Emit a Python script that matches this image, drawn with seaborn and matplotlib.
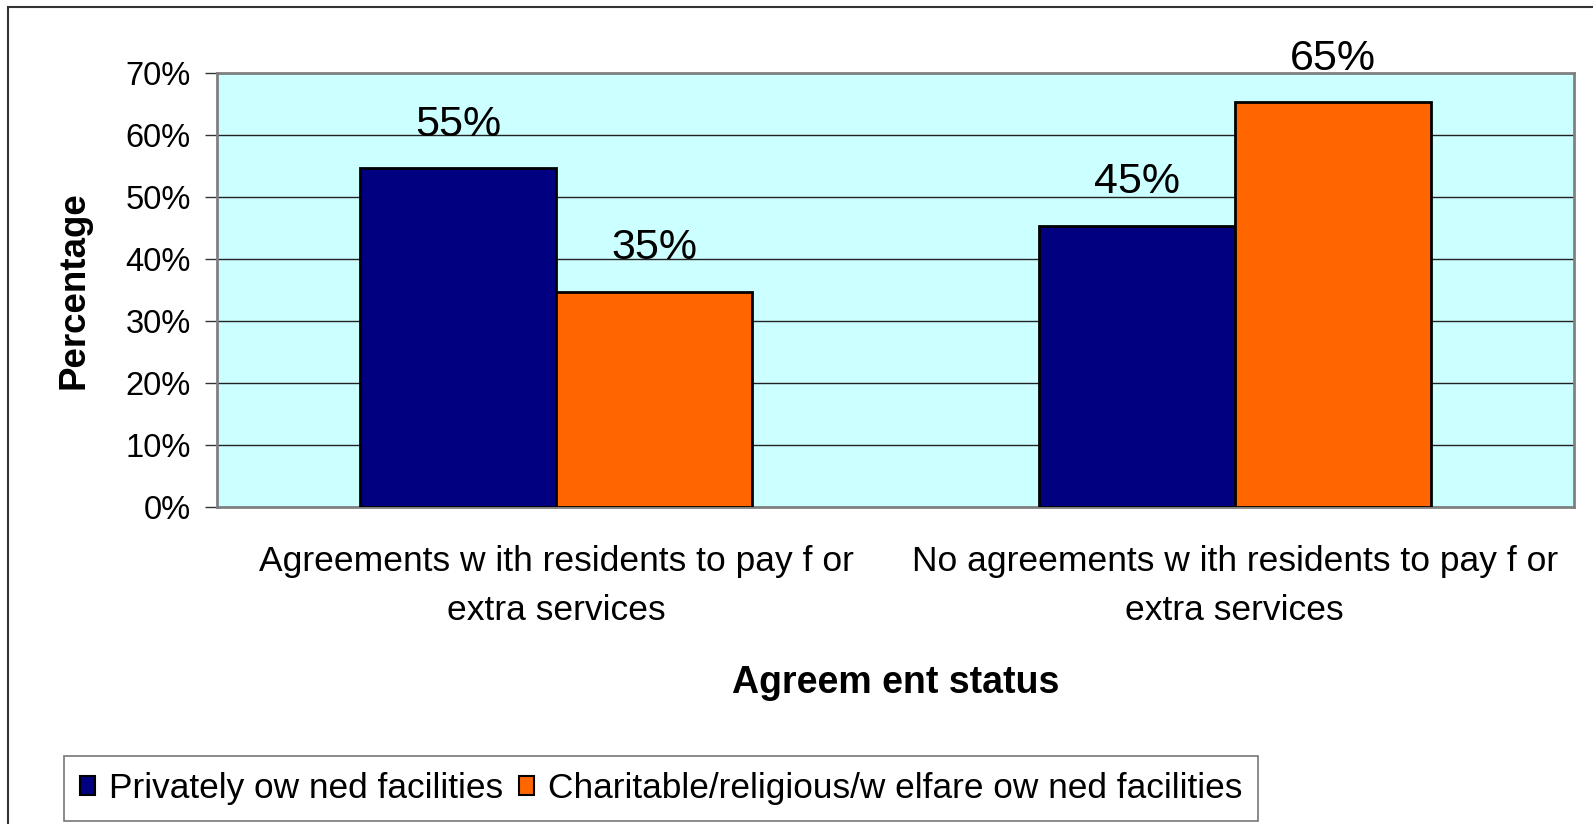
import pandas as pd
import seaborn as sns
import matplotlib.pyplot as plt
from matplotlib.patches import Rectangle, Patch

# data
categories = ['Agreements w ith residents to pay f or\nextra services',
              'No agreements w ith residents to pay f or\nextra services']
series = ['Privately ow ned facilities', 'Charitable/religious/w elfare ow ned facilities']
private_vals = [54.6, 45.4]
charitable_vals = [34.7, 65.3]
yticks = [0, 10, 20, 30, 40, 50, 60, 70]

colors = ['#000080', '#FF6600']

df = pd.DataFrame({
    'status': categories * 2,
    'owner': [series[0]] * 2 + [series[1]] * 2,
    'pct': private_vals + charitable_vals,
})

sns.set_style('white')
plt.rcParams['font.family'] = ['Liberation Sans', 'DejaVu Sans']
plt.rcParams['text.color'] = 'black'
plt.rcParams['axes.labelcolor'] = 'black'
plt.rcParams['xtick.color'] = 'black'
plt.rcParams['ytick.color'] = 'black'

fig = plt.figure(figsize=(15.93, 8.24), dpi=100)
ax = fig.add_axes([217 / 1593, 1 - 507 / 824, (1574 - 217) / 1593, (507 - 73) / 824])

sns.barplot(data=df, x='status', y='pct', hue='owner', palette=colors,
            width=0.578, edgecolor='black', linewidth=2, saturation=1,
            legend=False, ax=ax, zorder=3)

ax.set_facecolor('#CCFFFF')
ax.set_ylim(0, 70)
ax.set_xlim(-0.5, 1.5)
ax.set_yticks(yticks)
ax.set_yticklabels([f'{t}%' for t in yticks], fontsize=23.5)
ax.yaxis.grid(True, color='#222222', linewidth=1, zorder=1)
ax.xaxis.grid(False)
ax.set_axisbelow(True)

for s in ax.spines.values():
    s.set_color('#808080')
    s.set_linewidth(2)
    s.set_visible(True)

# category boundary ticks like Excel
ax.set_xticks([0, 1])
ax.set_xticklabels(categories, fontsize=25.5, linespacing=1.65)
ax.set_xticks([-0.5, 0.5, 1.5], minor=True)
ax.tick_params(axis='x', which='major', length=0, pad=27)
ax.tick_params(axis='x', which='minor', length=9, width=1, colors='#333333', direction='out')
ax.tick_params(axis='y', length=9, width=1, color='#333333', direction='out', pad=10, left=True)
for lab in ax.get_xticklabels() + ax.get_yticklabels():
    lab.set_color('black')

# value labels above bars
for cont in ax.containers:
    ax.bar_label(cont, labels=[f'{v:.0f}%' for v in cont.datavalues],
                 fontsize=31, padding=17, clip_on=False)

ax.set_ylabel('Percentage', fontsize=26.5, fontweight='bold', labelpad=24)
ax.set_xlabel('Agreem ent status', fontsize=27, fontweight='bold', labelpad=27)

handles = [Patch(facecolor=c, edgecolor='black', linewidth=1.5) for c in colors]
leg = fig.legend(handles, series, loc='lower left', bbox_to_anchor=(64 / 1593, 1 - 821 / 824),
                 ncol=2, fontsize=25.4, frameon=True, fancybox=False,
                 handlelength=0.42, handleheight=0.42, handletextpad=0.4,
                 columnspacing=0.45, borderpad=0.45, borderaxespad=0)
leg.get_frame().set_edgecolor('#555555')
leg.get_frame().set_linewidth(1.2)

# outer chart border
fig.patches.append(Rectangle((8 / 1593, -0.05), 1.1, 1 - 7 / 824 + 0.05,
                             transform=fig.transFigure, fill=False,
                             edgecolor='#333333', linewidth=1.5))

fig.savefig('out.png', dpi=100)
